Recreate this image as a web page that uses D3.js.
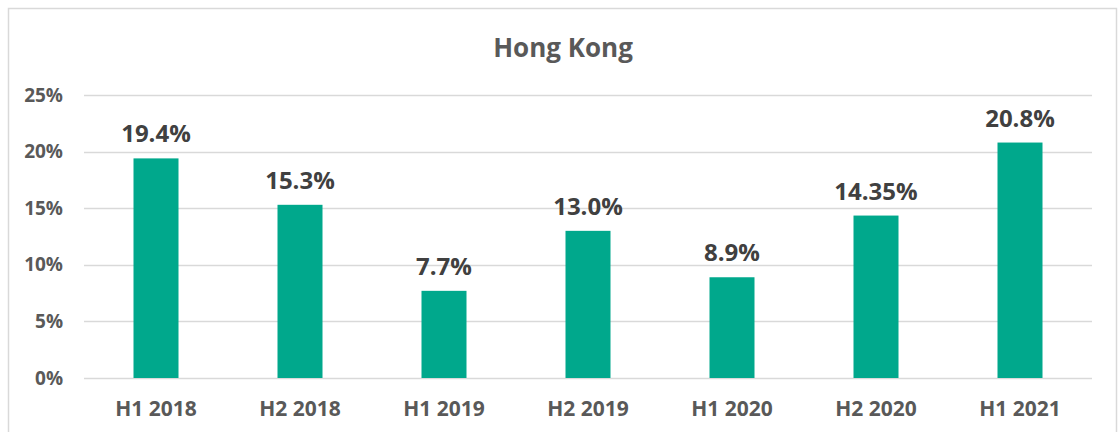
<!DOCTYPE html>
<html>
<head>
<meta charset="utf-8">
<script src="https://cdn.jsdelivr.net/npm/d3@7"></script>
<style>
  body { margin: 0; background: #fff; }
  svg { display: block; font-family: "Open Sans", sans-serif; }
</style>
</head>
<body>
<svg width="1120" height="432"></svg>
<script>
const categories = ["H1 2018", "H2 2018", "H1 2019", "H2 2019", "H1 2020", "H2 2020", "H1 2021"];
const values = [19.4, 15.3, 7.7, 13.0, 8.9, 14.35, 20.8];
const valueLabels = ["19.4%", "15.3%", "7.7%", "13.0%", "8.9%", "14.35%", "20.8%"];
const yTicks = [0, 5, 10, 15, 20, 25];
const title = "Hong Kong";

const svg = d3.select("svg");
const margin = { left: 84, right: 28, top: 95, bottom: 54 };
const W = 1120, H = 432;

// outer frame
svg.append("rect")
  .attr("x", 8.5).attr("y", 8.5)
  .attr("width", 1108).attr("height", 440)
  .attr("fill", "none")
  .attr("stroke", "#d9d9d9")
  .attr("stroke-width", 1.5);

const x = d3.scaleBand()
  .domain(categories)
  .range([margin.left, W - margin.right])
  .paddingInner(0.6875)
  .paddingOuter(0.34375);

const y = d3.scaleLinear()
  .domain([0, 25])
  .range([378, margin.top]);

// gridlines
svg.append("g")
  .selectAll("line")
  .data(yTicks)
  .enter()
  .append("line")
  .attr("x1", margin.left)
  .attr("x2", W - margin.right)
  .attr("y1", d => Math.round(y(d)) + 0.5)
  .attr("y2", d => Math.round(y(d)) + 0.5)
  .attr("stroke", "#d9d9d9")
  .attr("stroke-width", 1.5);

// y axis labels
const yAxis = d3.axisLeft(y)
  .tickValues(yTicks)
  .tickFormat(d => d + "%")
  .tickSize(0)
  .tickPadding(0);

svg.append("g")
  .attr("transform", `translate(63,0)`)
  .call(yAxis)
  .call(g => g.select(".domain").remove())
  .selectAll("text")
  .attr("fill", "#595959")
  .style("font-size", "19px")
  .style("font-weight", "bold")
  .style("font-family", "'Open Sans', sans-serif");

// x axis labels
const xAxis = d3.axisBottom(x).tickSize(0).tickPadding(0);
svg.append("g")
  .attr("transform", `translate(0,${y(0) + 23})`)
  .call(xAxis)
  .call(g => g.select(".domain").remove())
  .selectAll("text")
  .attr("fill", "#595959")
  .style("font-size", "21px")
  .style("font-weight", "bold")
  .style("font-family", "'Open Sans', sans-serif");

// bars
svg.append("g")
  .selectAll("rect")
  .data(values)
  .enter()
  .append("rect")
  .attr("x", (d, i) => x(categories[i]))
  .attr("width", x.bandwidth())
  .attr("y", d => y(d))
  .attr("height", d => y(0) - y(d))
  .attr("fill", "#00a88c");

// value labels
svg.append("g")
  .selectAll("text")
  .data(values)
  .enter()
  .append("text")
  .attr("x", (d, i) => x(categories[i]) + x.bandwidth() / 2)
  .attr("y", d => y(d) - 16)
  .attr("text-anchor", "middle")
  .attr("fill", "#404040")
  .style("font-size", "24px")
  .style("font-weight", "bold")
  .text((d, i) => valueLabels[i]);

// title
svg.append("text")
  .attr("x", 563)
  .attr("y", 57)
  .attr("text-anchor", "middle")
  .attr("fill", "#595959")
  .style("font-size", "26px")
  .style("font-weight", "bold")
  .text(title);
</script>
</body>
</html>
